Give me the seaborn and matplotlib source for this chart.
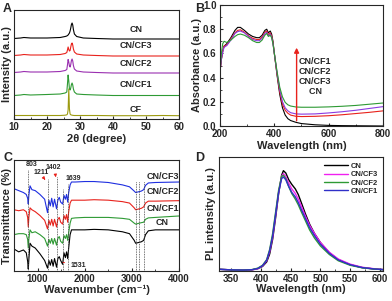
import matplotlib
matplotlib.use("Agg")
import matplotlib.pyplot as plt
from matplotlib.ticker import MultipleLocator
import seaborn as sns

# ---- A: XRD ----
xrd_2theta = [10, 12, 13, 15, 20, 24, 25.5, 26.0, 26.2, 26.4, 26.6, 26.8, 27.0, 27.2, 27.4,
              27.6, 27.8, 28.0, 28.3, 29, 31, 35, 40, 45, 50, 55, 60]
xrd_cn = [8.05, 8.1, 8.15, 8.1, 8.1, 8.15, 8.25, 8.3, 8.35, 8.4, 8.5, 8.6, 8.8, 9.1, 9.45,
          9.6, 9.4, 8.95, 8.5, 8.25, 8.1, 8.05, 8.0, 8.0, 8.0, 8.0, 8.0]
xrd_cf3 = [6.35, 6.4, 6.45, 6.4, 6.4, 6.45, 6.55, 6.65, 6.9, 7.2, 6.95, 6.8, 6.85, 7.2, 7.5,
           7.6, 7.4, 7.0, 6.7, 6.5, 6.4, 6.35, 6.3, 6.3, 6.3, 6.3, 6.3]
xrd_cf2 = [4.65, 4.7, 4.75, 4.7, 4.7, 4.75, 4.85, 4.95, 5.4, 5.95, 5.7, 5.3, 5.2, 5.45, 5.85,
           6.0, 5.8, 5.35, 5.0, 4.8, 4.7, 4.65, 4.6, 4.6, 4.6, 4.6, 4.6]
xrd_cf1 = [2.35, 2.4, 2.45, 2.4, 2.45, 2.5, 2.6, 2.7, 3.5, 4.4, 3.8, 3.0, 2.9, 3.1, 3.45,
           3.6, 3.4, 3.0, 2.7, 2.5, 2.45, 2.4, 2.35, 2.35, 2.35, 2.35, 2.35]
xrd_cf = [0.35, 0.35, 0.35, 0.35, 0.35, 0.35, 0.38, 0.42, 0.5, 0.9, 3.0, 1.0, 0.5, 0.42, 0.4,
          0.38, 0.37, 0.36, 0.35, 0.35, 0.35, 0.35, 0.33, 0.33, 0.33, 0.35, 0.33]
xrd_names = ["CN", "CN/CF3", "CN/CF2", "CN/CF1", "CF"]

# ---- B: UV-vis ----
uv_wl = [200, 205, 210, 215, 225, 240, 255, 265, 275, 290, 305, 320, 335, 345, 355, 365, 372,
         378, 385, 390, 395, 400, 410, 420, 430, 440, 450, 460, 480, 500, 550, 600, 650, 700,
         750, 800]
uv_cn = [0.45, 0.55, 0.62, 0.66, 0.68, 0.73, 0.79, 0.815, 0.815, 0.79, 0.76, 0.74, 0.73, 0.73,
         0.75, 0.79, 0.80, 0.77, 0.785, 0.76, 0.70, 0.60, 0.42, 0.26, 0.15, 0.09, 0.06, 0.045,
         0.03, 0.02, 0.01, 0.005, 0.003, 0.002, 0.001, 0.0]
uv_cf3 = [0.45, 0.55, 0.62, 0.66, 0.67, 0.72, 0.77, 0.79, 0.795, 0.775, 0.745, 0.725, 0.715,
          0.715, 0.735, 0.775, 0.785, 0.755, 0.77, 0.745, 0.69, 0.60, 0.43, 0.28, 0.18, 0.13,
          0.105, 0.09, 0.08, 0.078, 0.08, 0.085, 0.093, 0.103, 0.113, 0.125]
uv_cf2 = [0.45, 0.55, 0.61, 0.65, 0.665, 0.71, 0.765, 0.78, 0.785, 0.77, 0.74, 0.715, 0.705,
          0.705, 0.725, 0.765, 0.775, 0.745, 0.76, 0.735, 0.68, 0.60, 0.44, 0.30, 0.20, 0.15,
          0.125, 0.11, 0.10, 0.098, 0.10, 0.108, 0.118, 0.13, 0.145, 0.16]
uv_cf1 = [0.45, 0.60, 0.68, 0.70, 0.69, 0.71, 0.74, 0.755, 0.76, 0.75, 0.73, 0.705, 0.69, 0.69,
          0.71, 0.75, 0.765, 0.74, 0.75, 0.73, 0.68, 0.60, 0.45, 0.32, 0.24, 0.195, 0.175,
          0.165, 0.157, 0.155, 0.155, 0.158, 0.163, 0.17, 0.18, 0.19]

# ---- C: FTIR ----
ftir_wn = [500, 600, 700, 760, 790, 803, 815, 840, 880, 950, 1050, 1150, 1211, 1240, 1270,
           1300, 1330, 1360, 1402, 1430, 1460, 1490, 1531, 1560, 1590, 1615, 1639, 1660, 1690,
           1720, 1800, 2000, 2200, 2500, 2800, 2950, 3050, 3080, 3120, 3160, 3200, 3250, 3290,
           3350, 3500, 4000]
ftir_cf3 = [8.6, 8.4, 8.2, 8.0, 7.6, 7.0, 7.9, 8.9, 8.5, 8.4, 8.0, 7.5, 6.1, 7.4, 6.8, 7.6,
            6.7, 7.5, 6.5, 7.4, 7.7, 7.2, 7.0, 7.9, 7.5, 8.0, 7.2, 8.2, 9.0, 9.3, 9.3, 9.35,
            9.35, 9.25, 9.0, 8.8, 8.35, 8.2, 8.25, 8.3, 8.35, 8.5, 8.95, 9.2, 9.25, 9.3]
ftir_cf2 = [6.4, 6.3, 6.4, 6.2, 5.6, 4.6, 5.6, 6.6, 6.4, 6.2, 5.8, 5.3, 4.4, 5.3, 4.8, 5.4,
            4.7, 5.4, 4.6, 5.4, 5.6, 5.1, 4.9, 5.8, 5.4, 5.9, 5.1, 6.2, 7.1, 7.4, 7.4, 7.4,
            7.45, 7.4, 7.25, 7.1, 6.6, 6.4, 6.45, 6.5, 6.55, 6.7, 7.1, 7.3, 7.3, 7.35]
ftir_cf1 = [3.8, 3.9, 3.9, 3.8, 3.3, 2.4, 3.3, 4.3, 4.0, 4.1, 3.8, 3.4, 2.6, 3.3, 2.9, 3.4,
            2.8, 3.4, 2.7, 3.4, 3.6, 3.1, 2.9, 3.7, 3.4, 3.8, 3.2, 4.0, 5.0, 5.5, 5.55, 5.6,
            5.6, 5.6, 5.5, 5.4, 5.0, 4.9, 4.95, 5.0, 5.05, 5.1, 5.4, 5.55, 5.6, 5.75]
ftir_cn = [2.3, 2.0, 2.2, 1.9, 1.0, 0.2, 1.2, 2.9, 2.6, 2.4, 1.8, 1.1, 0.3, 1.1, 0.6, 1.2,
           0.5, 1.3, 0.4, 1.3, 1.5, 1.1, 0.7, 1.9, 1.4, 2.0, 1.3, 2.4, 3.8, 4.3, 4.3, 4.3,
           4.35, 4.3, 4.1, 3.9, 3.2, 2.9, 2.95, 3.0, 3.05, 3.2, 3.8, 4.2, 4.3, 4.3]
ftir_peaks = [803, 1211, 1402, 1531, 1639, 3080, 3160, 3250]
ftir_peak_tops = [10.6, 9.6, 9.8, 8.6, 9.1, 9.4, 9.4, 9.4]

# ---- D: PL ----
pl_wl = [330, 350, 370, 385, 395, 403, 410, 415, 420, 425, 430, 435, 438, 442, 447, 452, 458,
         463, 468, 475, 482, 490, 500, 515, 530, 550, 570, 590, 605]
pl_cn = [0.015, 0.01, 0.008, 0.01, 0.02, 0.04, 0.08, 0.15, 0.28, 0.47, 0.68, 0.84, 0.88, 0.86,
         0.80, 0.76, 0.72, 0.67, 0.60, 0.50, 0.41, 0.33, 0.25, 0.16, 0.10, 0.055, 0.03, 0.018,
         0.012]
pl_cf3 = [0.015, 0.01, 0.008, 0.01, 0.02, 0.045, 0.09, 0.17, 0.30, 0.49, 0.69, 0.83, 0.855,
          0.83, 0.77, 0.72, 0.68, 0.63, 0.57, 0.48, 0.40, 0.33, 0.25, 0.165, 0.105, 0.06, 0.033,
          0.02, 0.013]
pl_cf2 = [0.015, 0.01, 0.008, 0.012, 0.025, 0.05, 0.10, 0.19, 0.33, 0.52, 0.71, 0.83, 0.84,
          0.81, 0.74, 0.68, 0.63, 0.58, 0.52, 0.44, 0.36, 0.29, 0.22, 0.145, 0.09, 0.05, 0.028,
          0.017, 0.012]
pl_cf1 = [0.015, 0.01, 0.008, 0.011, 0.022, 0.047, 0.095, 0.18, 0.31, 0.50, 0.69, 0.81, 0.825,
          0.80, 0.74, 0.69, 0.65, 0.60, 0.54, 0.46, 0.38, 0.31, 0.235, 0.155, 0.097, 0.055,
          0.03, 0.018, 0.012]

sns.set_style("ticks")
plt.rcParams["font.family"] = ["Liberation Sans", "DejaVu Sans"]
plt.rcParams["font.weight"] = "bold"
plt.rcParams["axes.labelweight"] = "bold"
plt.rcParams["xtick.direction"] = "in"
plt.rcParams["ytick.direction"] = "in"
plt.rcParams["axes.linewidth"] = 0.8

fig = plt.figure(figsize=(3.92, 3.01), dpi=100)
W, H = 392, 301


def box(l, t, r, b):
    return [l / W, 1 - b / H, (r - l) / W, (b - t) / H]


axA = fig.add_axes(box(14, 10, 179, 119))
axB = fig.add_axes(box(220, 5, 383, 126))
axC = fig.add_axes(box(14, 160, 179, 271))
axD = fig.add_axes(box(219, 157, 383, 271))

tick_fs = 7
lab_fs = 8
lw = 0.8

# A
colA = ["black", "#e8221c", "#9a2fb0", "#2e9a34", "#9c9a10"]
for ys, c in zip([xrd_cn, xrd_cf3, xrd_cf2, xrd_cf1, xrd_cf], colA):
    sns.lineplot(x=xrd_2theta, y=ys, ax=axA, color=c, lw=lw)
for name, ty in zip(xrd_names, [8.55, 6.85, 5.15, 3.0, 0.55]):
    axA.text(47, ty, name, ha="center", va="bottom", fontsize=6.5, fontweight="bold")
axA.set_xlim(10, 60)
axA.set_ylim(0, 10.9)
axA.set_yticks([])
axA.xaxis.set_major_locator(MultipleLocator(10))
axA.xaxis.set_minor_locator(MultipleLocator(5))
axA.set_xlabel("2θ (degree)", fontsize=lab_fs, labelpad=1)
axA.set_ylabel("Intensity (a.u.)", fontsize=lab_fs)
axA.yaxis.set_label_coords(-0.01, 0.5)

# B
colB = ["black", "#e8221c", "#8a3ae0", "#2e9a34"]
for ys, c in zip([uv_cn, uv_cf3, uv_cf2, uv_cf1], colB):
    sns.lineplot(x=uv_wl, y=ys, ax=axB, color=c, lw=lw)
axB.annotate("", xy=(482, 0.67), xytext=(482, 0.02),
             arrowprops=dict(arrowstyle="-|>", color="#e8221c", lw=1, mutation_scale=7))
axB.text(491, 0.57, "CN/CF1\nCN/CF2\nCN/CF3\n    CN", ha="left", va="top",
         fontsize=6.5, fontweight="bold", linespacing=1.15)
axB.set_xlim(200, 800)
axB.set_ylim(0, 1.0)
axB.xaxis.set_major_locator(MultipleLocator(200))
axB.xaxis.set_minor_locator(MultipleLocator(100))
axB.yaxis.set_major_locator(MultipleLocator(0.2))
axB.yaxis.set_minor_locator(MultipleLocator(0.1))
axB.yaxis.set_major_formatter(plt.FormatStrFormatter("%.1f"))
axB.set_xlabel("Wavelength (nm)", fontsize=lab_fs, labelpad=1)
axB.set_ylabel("Absorbance (a.u.)", fontsize=lab_fs, labelpad=1)

# C
colC = ["#1f2fe0", "#e8221c", "#2e9a34", "black"]
for ys, c in zip([ftir_cf3, ftir_cf2, ftir_cf1, ftir_cn], colC):
    sns.lineplot(x=ftir_wn, y=ys, ax=axC, color=c, lw=lw)
for p, top in zip(ftir_peaks, ftir_peak_tops):
    axC.plot([p, p], [0, top], ls=(0, (1, 1)), color="#444444", lw=0.6)
for txt, tx, ty in [("803", 870, 10.8), ("1211", 1080, 9.9), ("1402", 1340, 10.4),
                    ("1639", 1760, 9.3)]:
    axC.text(tx, ty, txt, ha="center", va="bottom", fontsize=5, fontweight="bold")
axC.annotate("", xy=(1200, 9.3), xytext=(1110, 9.85),
             arrowprops=dict(arrowstyle="-|>", color="#e8221c", lw=0.7, mutation_scale=4))
axC.annotate("", xy=(1395, 9.5), xytext=(1370, 10.35),
             arrowprops=dict(arrowstyle="-|>", color="#e8221c", lw=0.7, mutation_scale=4))
axC.annotate("1531", xy=(1540, 0.9), xytext=(1700, 0.25), fontsize=5, fontweight="bold",
             va="bottom", arrowprops=dict(arrowstyle="-", color="#e8221c", lw=0.7))
for name, ty in zip(["CN/CF3", "CN/CF2", "CN/CF1", "CN"], [9.45, 7.8, 6.05, 4.6]):
    axC.text(3650, ty, name, ha="center", va="bottom", fontsize=6.5, fontweight="bold")
axC.set_xlim(500, 4000)
axC.set_ylim(0, 11.6)
axC.set_yticks([])
axC.xaxis.set_major_locator(MultipleLocator(1000))
axC.xaxis.set_minor_locator(MultipleLocator(500))
axC.set_xlabel("Wavenumber (cm⁻¹)", fontsize=lab_fs, labelpad=0)
axC.set_ylabel("Transmittance (%)", fontsize=lab_fs)
axC.yaxis.set_label_coords(-0.01, 0.5)

# D
colD = ["black", "#f020f0", "#2e9a34", "#3030c8"]
for ys, c, name in zip([pl_cn, pl_cf3, pl_cf2, pl_cf1], colD, ["CN", "CN/CF3", "CN/CF2", "CN/CF1"]):
    sns.lineplot(x=pl_wl, y=ys, ax=axD, color=c, lw=1.0, label=name)
axD.legend(loc="upper right", frameon=False, fontsize=5.5, handlelength=3.2,
           handletextpad=0.3, labelspacing=0.15, borderaxespad=0.3)
axD.set_xlim(330, 605)
axD.set_ylim(0, 1.0)
axD.set_yticks([])
axD.xaxis.set_major_locator(MultipleLocator(50))
axD.xaxis.set_minor_locator(MultipleLocator(25))
axD.set_xlabel("Wavelength (nm)", fontsize=lab_fs, labelpad=0)
axD.set_ylabel("PL intensity (a.u.)", fontsize=lab_fs, labelpad=2)

for ax in [axA, axB, axC, axD]:
    ax.tick_params(labelsize=tick_fs, length=2.5, width=0.8, pad=1.5)
    ax.tick_params(axis="x", pad=2.5)
    ax.tick_params(which="minor", length=1.5, width=0.6)
    for t in ax.get_xticklabels() + ax.get_yticklabels():
        t.set_fontweight("bold")
axB.tick_params(axis="y", pad=2.5)

for letter, x, y in [("A", 3, 3), ("B", 195, 3), ("C", 3, 152), ("D", 195, 152)]:
    fig.text(x / W, 1 - y / H, letter, fontsize=9, fontweight="bold", va="top")

fig.savefig("out.png", dpi=100)
